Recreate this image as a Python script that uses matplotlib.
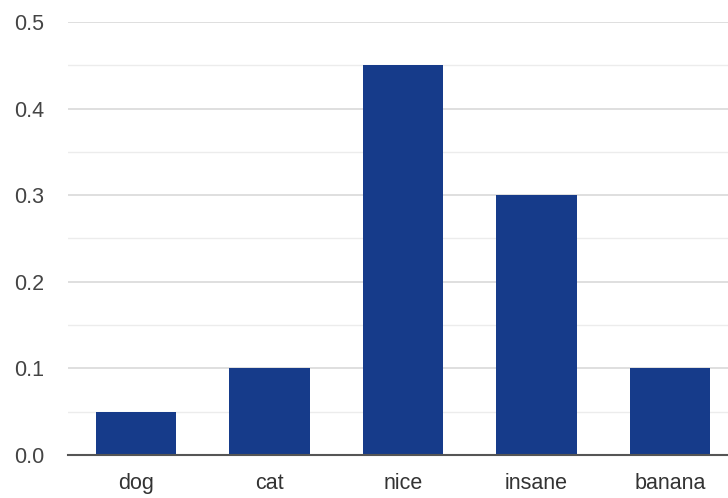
import numpy as np
import matplotlib.pyplot as plt

categories = ["dog", "cat", "nice", "insane", "banana"]
values = [0.05, 0.1, 0.45, 0.3, 0.1]
y_ticks = [0.0, 0.1, 0.2, 0.3, 0.4, 0.5]

plt.rcParams['font.family'] = ['Liberation Sans', 'DejaVu Sans']

fig = plt.figure(figsize=(7.28, 4.98), dpi=100)
ax = fig.add_axes([68 / 728, 43 / 498, 660 / 728, 433 / 498])

x = np.arange(len(categories))
ax.bar(x, values, width=0.6, color="#163b8a", zorder=3)

ax.set_xlim(-0.51, 4.435)
ax.set_ylim(0, 0.5)
ax.set_yticks(y_ticks)
ax.set_yticklabels([f"{v:.1f}" for v in y_ticks])
ax.set_yticks(np.arange(0.05, 0.5, 0.1), minor=True)
ax.set_xticks(x)
ax.set_xticklabels(categories)

ax.grid(axis="y", which="major", color="#d9d9d9", linewidth=1.2, zorder=0)
ax.grid(axis="y", which="minor", color="#ececec", linewidth=1.0, zorder=0)

for s in ["top", "right", "left"]:
    ax.spines[s].set_visible(False)
ax.spines["bottom"].set_color("#555555")
ax.spines["bottom"].set_linewidth(1.5)
ax.spines["bottom"].set_zorder(4)

ax.tick_params(axis="y", which="both", length=0, pad=17, labelsize=15.5, labelcolor="#444444")
ax.tick_params(axis="x", length=0, pad=13, labelsize=15.5, labelcolor="#333333")

fig.savefig("out.png", dpi=100)
